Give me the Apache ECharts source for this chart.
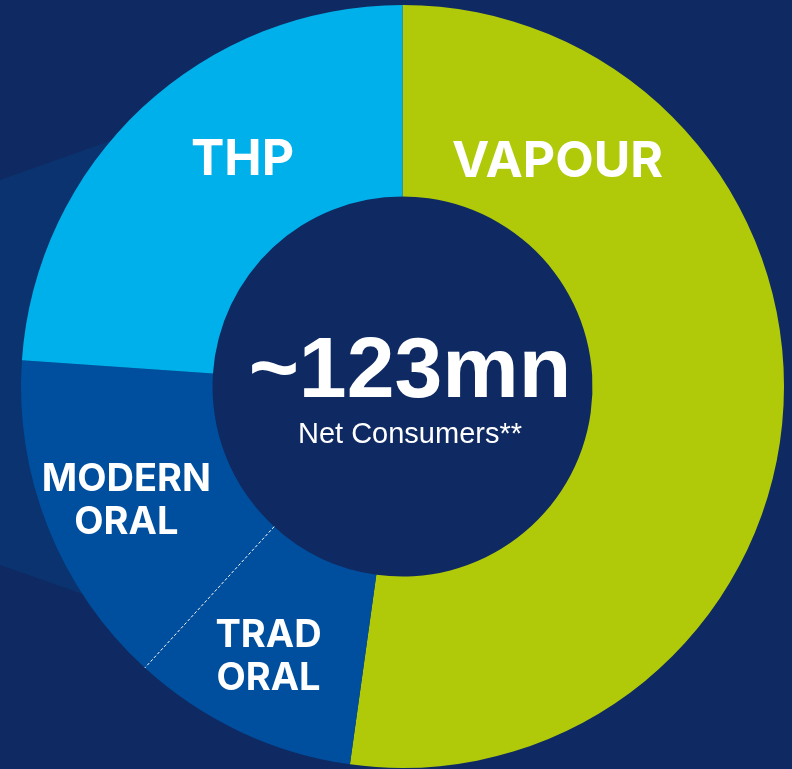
<!DOCTYPE html>
<html>
<head>
<meta charset="utf-8">
<script src="https://cdn.jsdelivr.net/npm/echarts@6/dist/echarts.min.js"></script>
<style>
    html, body { margin: 0; padding: 0; background: #0f2a62; }
    #chart { width: 792px; height: 769px; }
</style>
</head>
<body>
<div id="chart"></div>
<script>
// share of net consumers by category (%), clockwise from 12 o'clock
const categories = ['VAPOUR', 'TRAD\nORAL', 'MODERN\nORAL', 'THP'];
const shares = [52.2, 9.6, 14.3, 23.9];
const sliceColors = ['#b0ca0a', '#004f9e', '#004f9e', '#00b0ea'];
// label nudges from the default inside position
const labelShift = [[-133, -244], [-11, 9], [-8, 7], [37, -15]];
const fontSizes = [50, 38, 38, 50];

const centerX = 402.5, centerY = 386.5;
const innerR = 190, outerR = 381.5;

function initShareChart() {
    const chartDom = document.getElementById('chart');
    const myChart = echarts.init(chartDom);

    // dashed divider between trad oral and modern oral
    const total = shares.reduce((a, b) => a + b, 0);
    const cut = (shares[0] + shares[1]) / total * 2 * Math.PI;
    const sx = Math.sin(cut), cy = -Math.cos(cut);

    const option = {
        backgroundColor: '#0f2a62',
        animation: false,
        graphic: [
            {
                type: 'polygon',
                z: -10,
                shape: { points: [[0, 180], [200, 109], [200, 635], [0, 565]] },
                style: { fill: '#0a336f' }
            },
            {
                type: 'line',
                z: 100,
                shape: {
                    x1: centerX + innerR * sx, y1: centerY + innerR * cy,
                    x2: centerX + outerR * sx, y2: centerY + outerR * cy
                },
                style: { stroke: '#ffffff', lineWidth: 1, lineDash: [3, 2] }
            },
            {
                type: 'text',
                z: 100,
                x: 410, y: 330,
                style: {
                    text: '~123mn',
                    fill: '#fff',
                    font: 'bold 86px "Liberation Sans", Arial, sans-serif',
                    align: 'center'
                }
            },
            {
                type: 'text',
                z: 100,
                x: 410, y: 420,
                style: {
                    text: 'Net Consumers**',
                    fill: '#fff',
                    font: '29px "Liberation Sans", Arial, sans-serif',
                    align: 'center'
                }
            }
        ],
        series: [
            {
                type: 'pie',
                center: [centerX, centerY],
                radius: [innerR, outerR],
                startAngle: 90,
                clockwise: true,
                silent: true,
                avoidLabelOverlap: false,
                itemStyle: { borderWidth: 0 },
                label: {
                    show: true,
                    position: 'inside',
                    color: '#fff',
                    fontFamily: 'Inter, "Open Sans", sans-serif',
                    fontWeight: 'bold',
                    lineHeight: 43,
                    formatter: '{b}'
                },
                labelLine: { show: false },
                labelLayout: function (params) {
                    const s = labelShift[params.dataIndex];
                    return { dx: s[0], dy: s[1] };
                },
                data: categories.map((name, i) => ({
                    name: name,
                    value: shares[i],
                    itemStyle: { color: sliceColors[i] },
                    label: { fontSize: fontSizes[i] }
                }))
            }
        ]
    };

    myChart.setOption(option);
    return myChart;
}

initShareChart();
</script>
</body>
</html>
